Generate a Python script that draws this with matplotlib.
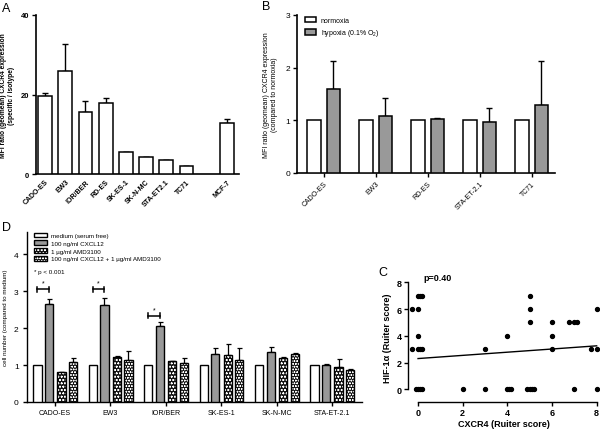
import matplotlib
matplotlib.use('Agg')
import matplotlib.pyplot as plt
from matplotlib.patches import Patch
import numpy as np

plt.rcParams['font.family'] = ['Liberation Sans', 'DejaVu Sans']
plt.rcParams['mathtext.fontset'] = 'custom'
plt.rcParams['mathtext.rm'] = 'Liberation Sans'
plt.rcParams['hatch.linewidth'] = 0.4

# panel A: CXCR4 expression per cell line
lines_a = ['CADO-ES', 'EW3', 'IOR/BER', 'RD-ES', 'SK-ES-1', 'SK-N-MC', 'STA-ET2.1', 'TC71', 'MCF-7']
mfi_a = [19.5, 25.9, 15.6, 17.9, 5.6, 4.4, 3.4, 1.9, 12.9]
err_a = [0.9, 6.8, 2.8, 1.3, 0.0, 0.0, 0.2, 0.0, 0.9]

# panel B: hypoxia vs normoxia
lines_b = ['CADO-ES', 'EW3', 'RD-ES', 'STA-ET-2.1', 'TC71']
normoxia = [1.0, 1.0, 1.0, 1.0, 1.0]
hypoxia = [1.59, 1.09, 1.02, 0.96, 1.30]
hypoxia_err = [0.54, 0.33, 0.02, 0.28, 0.83]

# panel D: migration assay
lines_d = ['CADO-ES', 'EW3', 'IOR/BER', 'SK-ES-1', 'SK-N-MC', 'STA-ET-2.1']
medium = [1.0, 1.0, 1.0, 1.0, 1.0, 1.0]
cxcl12 = [2.66, 2.62, 2.05, 1.29, 1.36, 0.99]
cxcl12_err = [0.14, 0.20, 0.11, 0.18, 0.14, 0.05]
amd = [0.82, 1.23, 1.10, 1.26, 1.20, 0.95]
amd_err = [0.0, 0.01, 0.0, 0.30, 0.02, 0.21]
combo = [1.09, 1.14, 1.05, 1.13, 1.31, 0.86]
combo_err = [0.09, 0.25, 0.15, 0.32, 0.01, 0.02]
sig_groups = [0, 1, 2]
sig_heights = [3.05, 3.05, 2.33]
d_labels = ['medium (serum free)', '100 ng/ml CXCL12', '1 \u00b5g/ml AMD3100',
            '100 ng/ml CXCL12 + 1 \u00b5g/ml AMD3100']

# panel C: Ruiter scores
cxcr4 = [-0.25, -0.25, 0.0, 0.09, 0.18, 0.0, 0.0, 0.0, 0.09, 0.18, -0.1, 0.0, 0.09, 0.18,
         2, 3, 3, 4, 4, 4.09, 4.18, 5, 5, 5, 4.88, 5, 5.1, 5.19,
         6, 6, 6, 6.74, 7, 7.11, 7, 7.73, 8, 8, 8]
hif1a = [6, 3, 7, 7, 7, 6, 4, 3, 3, 3, 0, 0, 0, 0,
         0, 3, 0, 4, 0, 0, 0, 7, 6, 5, 0, 0, 0, 0,
         5, 4, 3, 5, 5, 5, 0, 3, 6, 3, 0]
fit_intercept = 2.3
fit_slope = 0.119
p_text = 'p=0.40'

W, H = 600, 431
fig = plt.figure(figsize=(W / 100, H / 100), dpi=100)


def px_axes(x0, y0, x1, y1):
    return fig.add_axes([x0 / W, 1 - y1 / H, (x1 - x0) / W, (y1 - y0) / H])


def style(ax, lw=1.2):
    for s in ['top', 'right']:
        ax.spines[s].set_visible(False)
    for s in ['left', 'bottom']:
        ax.spines[s].set_linewidth(lw)


# ---- A ----
axA = px_axes(36, 16, 239, 175)
style(axA)
xa = np.arange(len(lines_a)).astype(float)
xa[-1] += 1
axA.bar(xa, mfi_a, width=0.69, color='white', edgecolor='black', linewidth=1.1, zorder=3)
axA.errorbar(xa, mfi_a, yerr=[np.zeros(len(err_a)), err_a], fmt='none', ecolor='black',
             elinewidth=1, capsize=2, capthick=1, zorder=2)
axA.set_xlim(-0.45, 9.6)
axA.set_ylim(0, 40)
axA.set_yticks([0, 20, 40])
axA.set_xticks(xa)
axA.set_xticklabels(lines_a, rotation=45, ha='right', rotation_mode='anchor',
                    fontsize=5, fontweight='bold')
axA.tick_params(axis='x', length=0, pad=3)
axA.tick_params(axis='y', length=3, width=1, labelsize=5.5, pad=2)
for t in axA.get_yticklabels():
    t.set_fontweight('bold')
axA.set_ylabel('MFI ratio (geomean) CXCR4 expression\n(specific / isotype)',
               fontsize=4.8, fontweight='bold', linespacing=1.05)
axA.yaxis.set_label_coords(-0.105, 0.5)
fig.text(2 / W, 1 - 12 / H, 'A', fontsize=9)

# ---- B ----
axB = px_axes(297, 16, 555, 174)
style(axB)
xb = np.arange(len(lines_b))
axB.bar(xb - 0.185, normoxia, width=0.255, color='white', edgecolor='black',
        linewidth=1.1, zorder=3, label='normoxia')
axB.bar(xb + 0.185, hypoxia, width=0.255, color='#999999', edgecolor='black',
        linewidth=1.1, zorder=3, label='hypoxia (0.1% O$_\\mathregular{2}$)')
axB.errorbar(xb + 0.185, hypoxia, yerr=[np.zeros(len(hypoxia_err)), hypoxia_err], fmt='none',
             ecolor='black', elinewidth=1, capsize=2, capthick=1, zorder=2)
axB.set_xlim(-0.51, 4.45)
axB.set_ylim(0, 3)
axB.set_yticks([0, 1, 2, 3])
axB.set_xticks(xb)
axB.set_xticklabels(lines_b, rotation=45, ha='right', rotation_mode='anchor', fontsize=5)
axB.tick_params(axis='x', length=3, width=1, pad=2)
axB.tick_params(axis='y', length=3, width=1, labelsize=6, pad=2)
axB.set_ylabel('MFI ratio (geomean) CXCR4 expression\n(compared to normoxia)', fontsize=5,
               linespacing=1.05)
axB.yaxis.set_label_coords(-0.075, 0.5)
axB.legend(loc='upper left', bbox_to_anchor=(0.005, 1.03), frameon=False, fontsize=5,
           handlelength=1.7, handleheight=0.9, labelspacing=0.5, handletextpad=0.6)
fig.text(262 / W, 1 - 10 / H, 'B', fontsize=9)

# ---- D ----
axD = px_axes(27, 233, 362, 403)
style(axD, lw=1.0)
xd = np.arange(len(lines_d))
bw = 0.15
series = [(medium, None, 'white', None), (cxcl12, cxcl12_err, '#999999', None),
          (amd, amd_err, '#111111', 'ooooo'), (combo, combo_err, '#111111', 'oooooo')]
offsets = [-0.316, -0.108, 0.117, 0.325]
handles = []
for (vals, errs, col, hatch), off in zip(series, offsets):
    if hatch:
        axD.bar(xd + off, vals, width=bw, color=col, edgecolor='white', hatch=hatch,
                linewidth=0, zorder=3)
        axD.bar(xd + off, vals, width=bw, fill=False, edgecolor='black', linewidth=1.0, zorder=4)
        handles.append((Patch(facecolor=col, edgecolor='white', hatch=hatch, linewidth=0),
                        Patch(fill=False, edgecolor='black', linewidth=1.0)))
    else:
        axD.bar(xd + off, vals, width=bw, color=col, edgecolor='black', linewidth=1.0, zorder=3)
        handles.append(Patch(facecolor=col, edgecolor='black', linewidth=1.0))
    if errs is not None:
        axD.errorbar(xd + off, vals, yerr=[np.zeros(len(errs)), errs], fmt='none',
                     ecolor='black', elinewidth=0.9, capsize=1.8, capthick=0.9, zorder=2)
for g, h in zip(sig_groups, sig_heights):
    x0, x1 = g + offsets[0], g + offsets[1]
    axD.plot([x0, x1], [h, h], color='black', lw=1.1)
    axD.plot([x0, x0], [h - 0.07, h + 0.07], color='black', lw=1.1)
    axD.plot([x1, x1], [h - 0.07, h + 0.07], color='black', lw=1.1)
    axD.text((x0 + x1) / 2, h + 0.08, '*', ha='center', va='bottom', fontsize=5)
axD.set_xlim(-0.505, 5.54)
axD.set_ylim(0, 4.6)
axD.set_yticks([0, 1, 2, 3, 4])
axD.set_xticks(xd)
axD.set_xticklabels(lines_d, fontsize=5)
axD.tick_params(axis='x', length=3, width=1, pad=2)
axD.tick_params(axis='y', length=3, width=1, labelsize=6, pad=3)
axD.set_ylabel('cell number (compared to medium)', fontsize=4.5)
axD.yaxis.set_label_coords(-0.058, 0.5)
axD.legend(handles, d_labels, loc='upper left', bbox_to_anchor=(0.005, 1.03), frameon=False,
           fontsize=4.5, handlelength=2, handleheight=0.8, labelspacing=0.35, handletextpad=0.6)
axD.text(0.02, 0.76, '* p < 0.001', transform=axD.transAxes, fontsize=4.5)
fig.text(2 / W, 1 - 231 / H, 'D', fontsize=9)

# ---- C ----
axC = px_axes(408, 274, 600, 403)
style(axC, lw=1.0)
axC.scatter(cxcr4, hif1a, s=8, color='black', zorder=3, clip_on=False)
fx = np.array([0, 8])
axC.plot(fx, fit_intercept + fit_slope * fx, color='black', lw=1)
axC.set_xlim(-0.45, 8.15)
axC.set_ylim(-0.95, 8.7)
axC.spines['left'].set_bounds(0, 8)
axC.spines['bottom'].set_bounds(0, 8)
axC.set_xticks([0, 2, 4, 6, 8])
axC.set_yticks([0, 2, 4, 6, 8])
axC.tick_params(length=3, width=1, labelsize=6.5, pad=1.5)
for t in axC.get_xticklabels() + axC.get_yticklabels():
    t.set_fontweight('bold')
axC.set_xlabel('CXCR4 (Ruiter score)', fontsize=6.5, fontweight='bold', labelpad=1)
axC.set_ylabel('HIF-1\u03b1 (Ruiter score)', fontsize=6.5, fontweight='bold', labelpad=3)
axC.text(0.22, 8.15, p_text, fontsize=6.5, fontweight='bold')
fig.text(378 / W, 1 - 276 / H, 'C', fontsize=9)

fig.savefig('out.png', dpi=100)
